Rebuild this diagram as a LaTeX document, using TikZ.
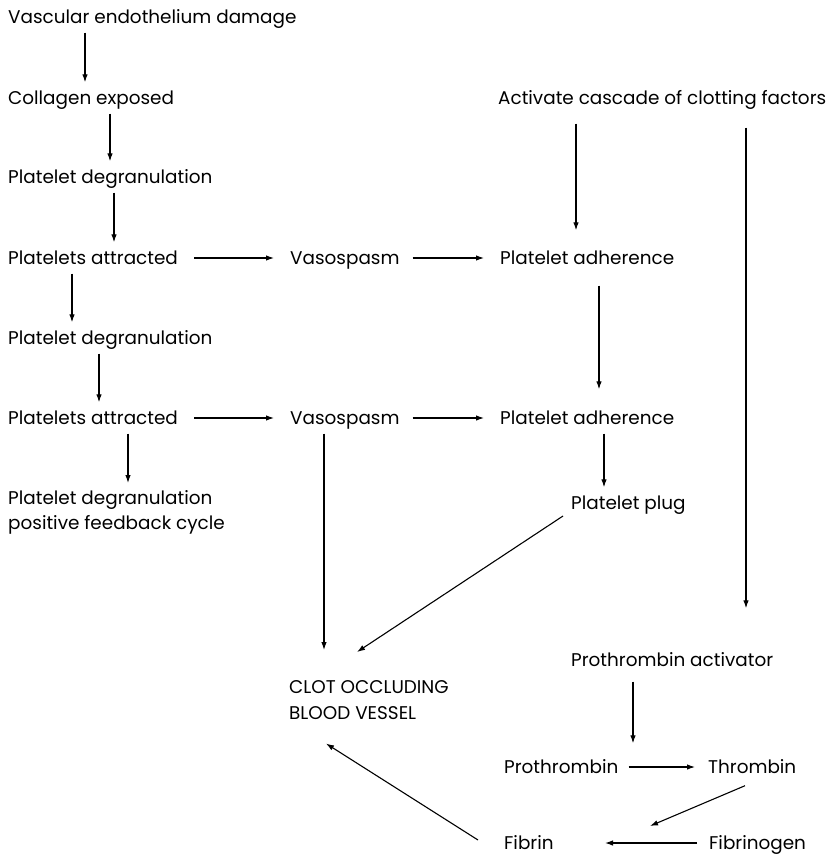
\documentclass[tikz,border=0pt]{standalone}
\usepackage{fontspec}
\setmainfont{Poppins}
\usetikzlibrary{arrows.meta,calc}

\begin{document}
\begin{tikzpicture}[x=1pt,y=-1pt,
    box/.style={anchor=west, inner xsep=0pt, inner ysep=5pt, text height=17pt, text depth=4pt, font=\fontsize{18.4}{25}\selectfont},
    twoline/.style={anchor=north west, inner sep=0pt, align=left, font=\fontsize{18.4}{25.5}\selectfont},
    arr/.style={-{Latex[length=8pt,width=5.5pt]}, line width=1.1pt},
    hor/.style={arr, shorten <=16pt, shorten >=16pt}]
        \useasboundingbox (0,0) rectangle (837,857);

        % Left column
        \node[box] (vasc) at (8,17) {Vascular endothelium damage};
        \node[box] (coll) at (8,98) {Collagen exposed};
        \node[box] (deg1) at (8,177) {Platelet degranulation};
        \node[box] (att1) at (8,258) {Platelets attracted};
        \node[box] (deg2) at (8,338) {Platelet degranulation};
        \node[box] (att2) at (8,418) {Platelets attracted};
        \node[twoline] (deg3) at (8,490) {Platelet degranulation\\positive feedback cycle};

        \draw[arr] (vasc.south -| 85,0) -- (coll.north -| 85,0);
        \draw[arr] (coll.south -| 110,0) -- (deg1.north -| 110,0);
        \draw[arr] (deg1.south -| 114,0) -- (att1.north -| 114,0);
        \draw[arr] (att1.south -| 72,0) -- (deg2.north -| 72,0);
        \draw[arr] (deg2.south -| 99,0) -- (att2.north -| 99,0);
        \draw[arr, shorten >=7pt] (att2.south -| 128,0) -- (deg3.north -| 128,0);

        % Middle column
        \node[box] (spasm1) at (290,258) {Vasospasm};
        \node[box] (adh1) at (500,258) {Platelet adherence};
        \node[box] (spasm2) at (290,418) {Vasospasm};
        \node[box] (adh2) at (500,418) {Platelet adherence};
        \node[box] (plug) at (571,503) {Platelet plug};
        \node[twoline, font=\fontsize{18.4}{26}\selectfont] (clot) at (289,680) {CLOT OCCLUDING\\BLOOD VESSEL};

        \draw[hor] (att1) -- (spasm1);
        \draw[hor, shorten <=13pt] (spasm1) -- (adh1);
        \draw[hor] (att2) -- (spasm2);
        \draw[hor, shorten <=13pt] (spasm2) -- (adh2);
        \draw[arr, shorten <=12pt, shorten >=13pt] (adh1.south -| 599,0) -- (adh2.north -| 599,0);
        \draw[arr] (adh2.south -| 604,0) -- (plug.north -| 604,0);
        \draw[arr, shorten >=30pt] (spasm2.south -| 324,0) -- (clot.north -| 324,0);
        \draw[arr] ($(plug.west)+(-8,13)$) -- ($(clot.north west)+(68,-28)$);

        % Clotting cascade
        \node[box] (casc) at (498,98) {Activate cascade of clotting factors};
        \node[box] (pact) at (571,660) {Prothrombin activator};
        \node[box] (proth) at (504,767) {Prothrombin};
        \node[box] (throm) at (708,767) {Thrombin};
        \node[box] (fibrin) at (504,843) {Fibrin};
        \node[box] (fibgen) at (709,843) {Fibrinogen};

        \draw[arr, shorten <=10pt, shorten >=12pt] (casc.south -| 576,0) -- (adh1.north -| 576,0);
        \draw[arr, shorten <=14pt, shorten >=36pt] (casc.south -| 746,0) -- (pact.north -| 746,0);
        \draw[arr, shorten <=6pt, shorten >=8pt] (pact.south -| 633,0) -- (proth.north -| 633,0);
        \draw[hor, shorten <=10pt, shorten >=13pt] (proth) -- (throm);
        \draw[arr] ($(throm.south west)+(37,3)$) -- ($(fibrin.west)+(146,-17)$);
        \draw[arr] ($(fibgen.west)+(-12,0)$) -- ($(fibrin.west)+(101,0)$);
        \draw[arr] ($(fibrin.west)+(-26,-3)$) -- ($(clot.south west)+(37,24)$);
    \end{tikzpicture}
\end{document}
